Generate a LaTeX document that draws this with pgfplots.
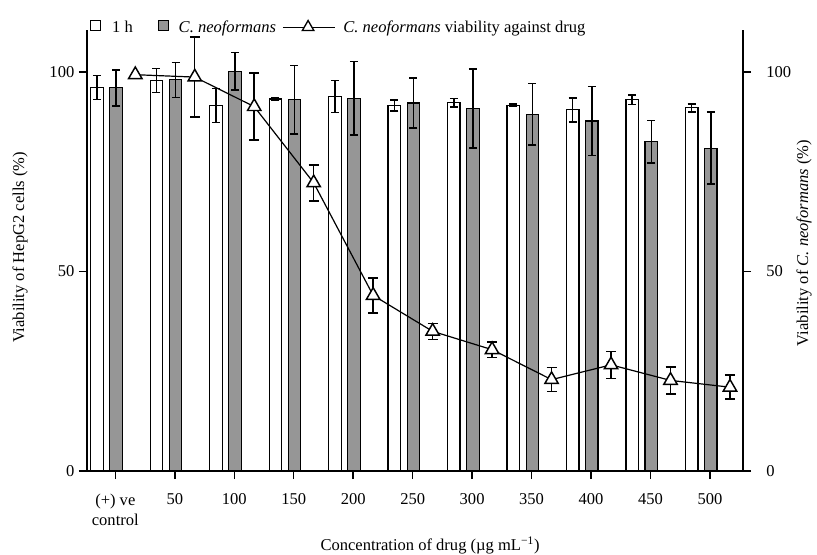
\documentclass[border=0pt]{standalone}
\usepackage{pgfplots}
\pgfplotsset{compat=1.18}
\usepackage{pgfplotstable}
\usepackage{fontspec}
\setmainfont{Liberation Serif}
\definecolor{barg}{RGB}{150,150,150}

\pgfplotstableread{
x y e
-0.308 96.1 3.0
0.692 97.8 3.0
1.692 91.6 4.3
2.692 93.2 0.3
3.692 93.8 4.0
4.692 91.6 1.4
5.692 92.3 1.1
6.692 91.6 0.3
7.692 90.5 3.0
8.692 93.0 1.2
9.692 91.0 1.0
}\whitetab

\pgfplotstableread{
x y e
0.013 96.0 4.5
1.013 98.0 4.4
2.013 100.2 4.7
3.013 93.0 8.6
4.013 93.4 9.2
5.013 92.2 6.3
6.013 90.8 9.9
7.013 89.4 7.7
8.013 87.7 8.6
9.013 82.5 5.3
10.013 80.9 9.0
}\graytab

\pgfplotstableread{
x y e
0.336 99.3 0
1.336 98.7 10.0
2.336 91.3 8.4
3.336 72.2 4.5
4.336 44.0 4.4
5.336 35.0 2.0
6.336 30.4 1.9
7.336 22.9 3.0
8.336 26.6 3.4
9.336 22.7 3.4
10.336 21.0 3.0
}\tritab

\begin{document}
\begin{tikzpicture}[font=\fontsize{12.4}{15}\selectfont]
\useasboundingbox (-65.25pt,-62.25pt) rectangle (547.5pt,353.25pt);
\begin{axis}[
  at={(0pt,0pt)}, anchor=south west,
  scale only axis, width=492pt, height=330.75pt,
  xmin=-0.476, xmax=10.555, ymin=0, ymax=110.5,
  axis x line*=bottom, axis y line*=left,
  axis line style={line width=1.1pt},
  x axis line style={-, shorten <=-6pt, shorten >=-6pt},
  y axis line style={-},
  tick align=outside, major tick length=6pt,
  tick style={line width=1.1pt, black},
  xtick={0,1,...,10},
  xticklabels={{(+) ve\\control},50,100,150,200,250,300,350,400,450,500},
  xticklabel style={align=center, yshift=-7.5pt},
  ytick={0,50,100}, yticklabels={0,50,100},
  xlabel={Concentration of drug (µg mL\textsuperscript{−1})},
  xlabel style={at={(axis description cs:0.5229,-0.1693)}, anchor=center},
  ylabel={Viability of HepG2 cells (\%)},
  ylabel style={at={(axis description cs:-0.1021,0.5068)}, anchor=center},
  legend style={at={(axis description cs:0,1)}, anchor=west, xshift=2.25pt, yshift=2.6pt,
    draw=none, fill=none, inner sep=0pt, column sep=0pt, nodes={inner sep=0pt}},
  legend columns=-1,
  clip=false,
]
\addlegendimage{legend image code/.code={\draw[fill=white,draw=black,line width=0.9pt] (0pt,-3pt) rectangle (7.5pt,4.5pt);}}
\addlegendentry{\strut\hspace{8pt}1 h}
\addlegendimage{legend image code/.code={\path[draw=none,fill=none] (-19pt,-1pt) rectangle (0pt,1pt); \draw[fill=barg,draw=black,line width=0.9pt] (0pt,-3pt) rectangle (7.5pt,4.5pt);}}
\addlegendentry{\strut\hspace{7.5pt}\textit{C. neoformans}}
\addlegendimage{legend image code/.code={\path[draw=none,fill=none] (-5pt,-1pt) rectangle (0pt,1pt); \draw[black, line width=0.9pt, mark=triangle*, mark options={fill=white, line width=1pt, mark size=5pt}, mark repeat=2, mark phase=2] plot coordinates {(0pt,-0.5pt) (19pt,-0.5pt) (39pt,-0.5pt)};}}
\addlegendentry{\strut\hspace{6pt}\textit{C. neoformans} viability against drug}

\addplot[ybar, bar width=0.21, bar shift=0pt, fill=white, draw=black, line width=0.9pt, forget plot,
  error bars/.cd, y dir=both, y explicit,
  error bar style={line width=1.1pt, black},
  error mark options={rotate=90, mark size=3pt, line width=1.1pt, black}]
  table[x=x, y=y, y error=e] {\whitetab};
\addplot[ybar, bar width=0.21, bar shift=0pt, fill=barg, draw=black, line width=0.9pt, forget plot,
  error bars/.cd, y dir=both, y explicit,
  error bar style={line width=1.1pt, black},
  error mark options={rotate=90, mark size=3pt, line width=1.1pt, black}]
  table[x=x, y=y, y error=e] {\graytab};
\addplot[black, line width=0.9pt, mark=triangle*, mark size=5.8pt,
  mark options={fill=white, line width=1.1pt, solid}, forget plot,
  error bars/.cd, y dir=both, y explicit,
  error bar style={line width=1.1pt, black},
  error mark options={rotate=90, mark size=3.75pt, line width=1.1pt, black}]
  table[x=x, y=y, y error=e] {\tritab};
\end{axis}
\begin{axis}[
  at={(0pt,0pt)}, anchor=south west,
  scale only axis, width=492pt, height=330.75pt,
  xmin=-0.476, xmax=10.555, ymin=0, ymax=110.5,
  axis x line=none, axis y line=right,
  axis line style={line width=1.1pt},
  y axis line style={-},
  tick align=outside, major tick length=6pt,
  tick style={line width=1.1pt, black},
  ytick={0,50,100}, yticklabels={0,50,100},
  yticklabel style={anchor=west, xshift=8pt},
  ylabel={Viability of \textit{C. neoformans} (\%)},
  ylabel style={at={(axis description cs:1.093,0.517)}, anchor=center, rotate=0},
]
\end{axis}
\end{tikzpicture}
\end{document}
